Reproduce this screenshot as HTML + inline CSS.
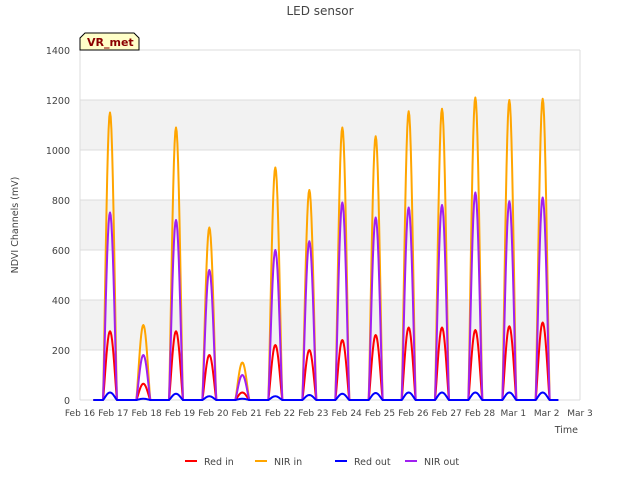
<!DOCTYPE html>
<html><head><meta charset="utf-8"><style>
body{margin:0;background:#fff;font-family:"Liberation Sans",sans-serif}
svg text{font-family:"DejaVu Sans","Liberation Sans",sans-serif}
</style></head><body>
<svg id="c" width="640" height="480" xmlns="http://www.w3.org/2000/svg">
<rect x="0" y="0" width="640" height="480" fill="#fff"/>
<g id="grid"></g>
<g id="series"></g>
<g id="axes"></g>
<text x="320" y="15" text-anchor="middle" font-size="12" fill="#444">LED sensor</text>
<text x="18" y="225" text-anchor="middle" font-size="9.5" fill="#444" transform="rotate(-90 18 225)">NDVI Channels (mV)</text>
<text x="578" y="433" text-anchor="end" font-size="9.5" fill="#444">Time</text>
<g>
<path d="M80,50 L80,38 L85,33 L134,33 L139,38 L139,50 Z" fill="#ffffc8" stroke="#000" stroke-width="1"/>
<text x="87" y="46" font-size="11" font-weight="bold" fill="#8b0000">VR_met</text>
</g>
<g id="legend"></g>
</svg>
<script>
const dayLabels=["Feb 16","Feb 17","Feb 18","Feb 19","Feb 20","Feb 21","Feb 22","Feb 23","Feb 24","Feb 25","Feb 26","Feb 27","Feb 28","Mar 1","Mar 2","Mar 3"];
const yTicks=[0,200,400,600,800,1000,1200,1400];
const peakDays=[0.9,1.9,2.88,3.88,4.87,5.86,6.88,7.87,8.87,9.86,10.86,11.86,12.88,13.88];
const nirIn=[1150,300,1090,690,150,930,840,1090,1055,1155,1165,1210,1200,1205];
const nirOut=[750,180,720,520,100,600,635,790,730,770,780,830,795,810];
const redIn=[275,65,275,180,30,220,200,240,260,290,290,280,295,310];
const redOut=[30,5,25,15,5,15,20,25,28,30,30,30,30,30];
const X0=80,X1=580,Y0=400,Y1=50;
const xs=d=>X0+d*(X1-X0)/15;
const ys=v=>Y0-v*(Y0-Y1)/1400;
const NS="http://www.w3.org/2000/svg";
function mk(t,a,p){const e=document.createElementNS(NS,t);for(const k in a)e.setAttribute(k,a[k]);p.appendChild(e);return e;}
const grid=document.getElementById('grid');
[[200,400],[600,800],[1000,1200]].forEach(b=>{
 const r=mk('rect',{x:X0,y:ys(b[1]),width:X1-X0,height:ys(b[0])-ys(b[1]),fill:'#f2f2f2'},grid);
 
 
});
yTicks.forEach(v=>{
 const l=mk('line',{x1:X0,x2:X1,y1:ys(v),y2:ys(v),stroke:'#dcdcdc','stroke-width':1},grid);
 
 
});
mk('line',{x1:X0,x2:X0,y1:Y1,y2:Y0,stroke:'#dcdcdc'},grid);
mk('line',{x1:X1,x2:X1,y1:Y1,y2:Y0,stroke:'#dcdcdc'},grid);
const axes=document.getElementById('axes');
yTicks.forEach(v=>{
 const t=mk('text',{x:X0-10,y:ys(v)+4,'text-anchor':'end','font-size':9.5,fill:'#444'},axes);
 t.textContent=v;
 
 
});
dayLabels.forEach((s,i)=>{
 const t=mk('text',{x:xs(i),y:416,'text-anchor':'middle','font-size':9,fill:'#444'},axes);
 t.textContent=s;
 
 
});
const ser=document.getElementById('series');
function draw(vals,color,name,w){
 let d='M'+xs(0.4)+','+ys(0);
 const hw=0.21;
 vals.forEach((p,i)=>{
  const c=peakDays[i];
  d+=' L'+xs(c-hw)+','+ys(0);
  for(let k=1;k<20;k++){const t=k/20;d+=' L'+xs(c-hw+2*hw*t).toFixed(2)+','+ys(p*Math.pow(Math.sin(Math.PI*t),1.2)).toFixed(2);}
  d+=' L'+xs(c+hw)+','+ys(0);
 });
 d+=' L'+xs(14.35)+','+ys(0);
 const e=mk('path',{d:d,fill:'none',stroke:color,'stroke-width':w,'stroke-linejoin':'round'},ser);
 
 
}
draw(nirIn,'#ffa500','nir-in-line',2);
draw(redIn,'#ff0000','red-in-line',2);
draw(nirOut,'#a020f0','nir-out-line',2);
draw(redOut,'#0000ff','red-out-line',2);
const leg=document.getElementById('legend');
[['Red in','#ff0000',185],['NIR in','#ffa500',255],['Red out','#0000ff',335],['NIR out','#a020f0',405]].forEach(a=>{
 const g=mk('g',{},leg);
 
 
 mk('line',{x1:a[2],x2:a[2]+12,y1:461,y2:461,stroke:a[1],'stroke-width':2},g);
 const t=mk('text',{x:a[2]+19,y:465,'font-size':9.5,fill:'#444'},g);
 t.textContent=a[0];
});
</script>
</body></html>
